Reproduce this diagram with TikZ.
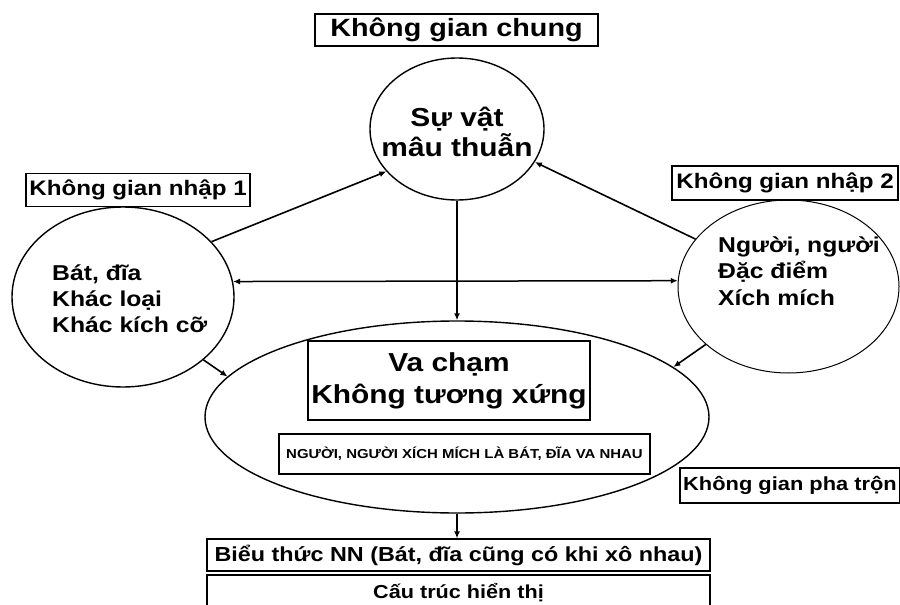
\documentclass[tikz,border=0pt]{standalone}
\usepackage{fontspec}
\setmainfont{Liberation Sans}[FakeStretch=1.15]
\usetikzlibrary{shapes.geometric,arrows.meta}
\begin{document}
\begin{tikzpicture}[x=1pt,y=-1pt,
  box/.style={draw,line width=1.3pt,inner sep=0pt,align=center},
  ell/.style={draw,ellipse,line width=1.4pt,inner sep=0pt},
  txt/.style={inner sep=0pt},
  arr/.style={line width=1.6pt,-{Latex[length=7pt,width=6pt]}},
  darr/.style={line width=1.5pt,{Latex[length=7pt,width=6pt]}-{Latex[length=7pt,width=6pt]}},
  fa/.style={font=\bfseries\fontsize{#1}{#1}\selectfont}
]
\useasboundingbox (0,0) rectangle (900,605);
\fill[white] (0,0) rectangle (900,605);

% boxes
\node[box,fa=25,minimum width=283pt,minimum height=32pt] (chung) at (456.5,30) {Không gian chung};
\node[box,fa=21,minimum width=224pt,minimum height=33pt] (nhap1) at (138,190) {Không gian nhập 1};
\node[box,fa=21,minimum width=226pt,minimum height=34pt] (nhap2) at (785,183) {Không gian nhập 2};

% ellipses
\node[ell,minimum width=174pt,minimum height=142pt] (SV) at (457,129) {};
\node[ell,minimum width=222pt,minimum height=180pt] (L) at (123,297) {};
\node[ell,line width=1pt,minimum width=221pt,minimum height=173pt] (R) at (788.5,286.5) {};
\node[ell,minimum width=504pt,minimum height=192pt] (B) at (457,417) {};

% ellipse texts
\node[txt,align=center,font=\bfseries\fontsize{26}{30}\selectfont] (svt) at (457,132) {Sự vật\\mâu thuẫn};
\node[txt,align=left,anchor=west,font=\bfseries\fontsize{21.5}{26}\selectfont] (lt) at (52,299) {Bát, đĩa\\Khác loại\\Khác kích cỡ};
\node[txt,align=left,anchor=west,font=\bfseries\fontsize{21.5}{26.5}\selectfont] (rt) at (718,271) {Người, người\\Đặc điểm\\Xích mích};

% inner boxes
\node[box,font=\bfseries\fontsize{26}{32}\selectfont,minimum width=282pt,minimum height=79pt] (vc) at (449,380.5) {Va chạm\\Không tương xứng};
\node[box,fa=13,minimum width=371pt,minimum height=40pt] (ng) at (464.5,454) {NGƯỜI, NGƯỜI XÍCH MÍCH LÀ BÁT, ĐĨA VA NHAU};
\node[box,fa=19,minimum width=220pt,minimum height=35pt] (pt) at (790,485.5) {Không gian pha trộn};
\node[box,fa=20.3,minimum width=503pt,minimum height=32pt] (bt) at (458.5,555) {Biểu thức NN (Bát, đĩa cũng có khi xô nhau)};
\node[box,fa=18.8,minimum width=503pt,minimum height=36pt] (ct) at (458.5,593) {Cấu trúc hiển thị};

% connectors
\draw[arr] (L.32.8) -- (SV.211);
\draw[arr] (R.153.6) -- (SV.337.6);
\draw[darr] (L.8.3) -- (R.177.1);
\draw[arr] (SV.south) -- (B.north);
\draw[arr] (L.322.6) -- (B.170.9);
\draw[arr] (R.215) -- (B.13);
\draw[arr] (B.south) -- (B.south |- bt.north);
\end{tikzpicture}
\end{document}
